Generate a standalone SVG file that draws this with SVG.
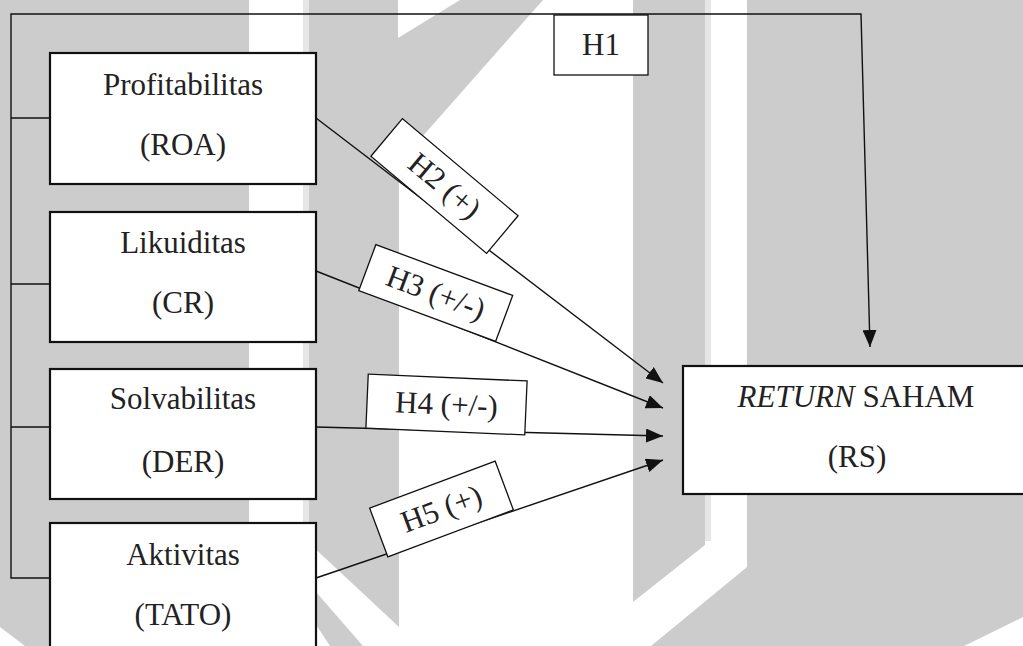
<svg xmlns="http://www.w3.org/2000/svg" width="1023" height="646" viewBox="0 0 1023 646">
  <defs>
    <style>
      .wm { fill: #cccccc; stroke: none; }
      .wl { fill: #e6e6e6; stroke: none; }
      .box { fill: #ffffff; stroke: #111111; stroke-width: 2.2; }
      .lbl { fill: #ffffff; stroke: #111111; stroke-width: 1.3; }
      .txt { font-family: "Liberation Serif", "Times New Roman", serif; font-size: 31px; fill: #222222; text-anchor: middle; }
      .con { fill: none; stroke: #111111; stroke-width: 1.4; }
    </style>
    <marker id="arr" markerUnits="userSpaceOnUse" markerWidth="18" markerHeight="14" refX="17" refY="7" orient="auto">
      <path d="M0,0 L17,7 L0,14 Z" fill="#111111"/>
    </marker>
  </defs>

  <rect x="0" y="0" width="1023" height="646" fill="#ffffff"/>

  <g id="watermark">
    <polygon class="wm" points="0,0 249,0 249,646 25,646 0,627"/>
    <rect class="wl" x="303" y="0" width="6" height="530"/>
    <polygon class="wm" points="309,0 398,0 398,38 460,0 543,0 399,163 399,627 309,543"/>
    <polygon class="wm" points="309,584 363,646 330,646 309,614"/>
    <polygon class="wm" points="633,0 705,0 705,545 633,602"/>
    <rect class="wl" x="705" y="0" width="6" height="541"/>
    <polygon class="wm" points="747,0 1023,0 1023,617 964,646 651,646 747,567"/>
  </g>

  <g id="connectors">
    <polyline class="con" points="50,118 11,118"/>
    <polyline class="con" points="50,284 11,284"/>
    <polyline class="con" points="50,427 11,427"/>
    <polyline class="con" points="50,578 11,578 11,14 861,14 870,347" marker-end="url(#arr)"/>
    <line class="con" x1="316" y1="118" x2="663" y2="383" marker-end="url(#arr)"/>
    <line class="con" x1="316" y1="271" x2="663" y2="408" marker-end="url(#arr)"/>
    <line class="con" x1="316" y1="427" x2="663" y2="436" marker-end="url(#arr)"/>
    <line class="con" x1="316" y1="578" x2="663" y2="460" marker-end="url(#arr)"/>
  </g>

  <g id="node-roa">
    <rect class="box" x="50" y="53" width="266" height="131"/>
    <text class="txt" x="183" y="95">Profitabilitas</text>
    <text class="txt" x="183" y="155">(ROA)</text>
  </g>
  <g id="node-cr">
    <rect class="box" x="50" y="212" width="266" height="130"/>
    <text class="txt" x="183" y="253">Likuiditas</text>
    <text class="txt" x="183" y="313">(CR)</text>
  </g>
  <g id="node-der">
    <rect class="box" x="50" y="369" width="266" height="130"/>
    <text class="txt" x="183" y="409">Solvabilitas</text>
    <text class="txt" x="183" y="472">(DER)</text>
  </g>
  <g id="node-tato">
    <rect class="box" x="50" y="523" width="266" height="140"/>
    <text class="txt" x="183" y="565">Aktivitas</text>
    <text class="txt" x="183" y="625">(TATO)</text>
  </g>
  <g id="node-rs">
    <rect class="box" x="683" y="366" width="346" height="128"/>
    <text class="txt" x="856" y="407"><tspan font-style="italic">RETURN</tspan> SAHAM</text>
    <text class="txt" x="857" y="467">(RS)</text>
  </g>

  <g id="label-h1">
    <rect class="lbl" x="554" y="15" width="94" height="60"/>
    <text class="txt" x="601" y="55">H1</text>
  </g>
  <g id="label-h2" transform="translate(444.5,186) rotate(40)">
    <rect class="lbl" x="-75.5" y="-24.5" width="151" height="49"/>
    <text class="txt" x="0" y="10">H2 (+)</text>
  </g>
  <g id="label-h3" transform="translate(435.75,293) rotate(20.4)">
    <rect class="lbl" x="-73" y="-24.5" width="146" height="49"/>
    <text class="txt" x="0" y="10">H3 (+/-)</text>
  </g>
  <g id="label-h4" transform="translate(446.5,404.5) rotate(2.5)">
    <rect class="lbl" x="-79.5" y="-27" width="159" height="54"/>
    <text class="txt" x="0" y="10">H4 (+/-)</text>
  </g>
  <g id="label-h5" transform="translate(441.5,509) rotate(-20.5)">
    <rect class="lbl" x="-67" y="-26" width="134" height="52"/>
    <text class="txt" x="0" y="10">H5 (+)</text>
  </g>
</svg>
